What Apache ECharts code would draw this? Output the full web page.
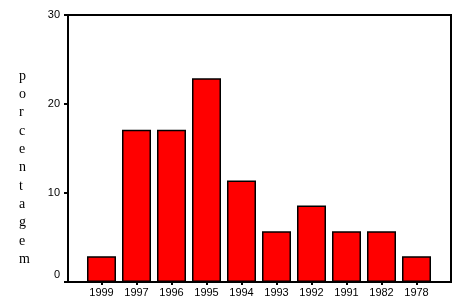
<!DOCTYPE html>
<html>
<head>
<meta charset="utf-8">
<script src="https://cdn.jsdelivr.net/npm/echarts@6/dist/echarts.min.js"></script>
<style>html,body{margin:0;padding:0;background:#fff}#c{width:461px;height:301px}</style>
</head>
<body>
<div id="c"></div>
<script>
var categories = ['1999','1997','1996','1995','1994','1993','1992','1991','1982','1978'];
var values = [2.9, 17.1, 17.1, 22.9, 11.4, 5.7, 8.6, 5.7, 5.7, 2.9];
var yMin = 0, yMax = 30, yStep = 10;
var yName = 'porcentagem';

var chart = echarts.init(document.getElementById('c'), null, {renderer: 'canvas'});
chart.setOption({
  animation: false,
  backgroundColor: '#fff',
  title: {
    text: yName.split('').join('\n'),
    left: 14, top: 62,
    textStyle: {fontFamily: 'Liberation Serif', fontSize: 14, fontWeight: 'normal', color: '#000', lineHeight: 18.3}
  },
  grid: [
    {left: 68, right: 10, top: 15, bottom: 19, show: true, borderColor: '#000', borderWidth: 2, backgroundColor: 'transparent'},
    {left: 84, right: 27, top: 15, bottom: 19}
  ],
  xAxis: [
    {gridIndex: 0, type: 'value', show: false, min: 0, max: 1},
    {gridIndex: 1, type: 'category', data: categories,
     axisLine: {show: false},
     axisTick: {show: true, alignWithLabel: true, length: 3, lineStyle: {color: '#000', width: 2}},
     axisLabel: {color: '#000', fontFamily: 'Liberation Sans', fontSize: 11, margin: 5}}
  ],
  yAxis: [
    {gridIndex: 0, type: 'value', min: yMin, max: yMax, interval: yStep,
     axisLine: {show: false},
     axisTick: {show: true, length: 4, lineStyle: {color: '#000', width: 2}},
     splitLine: {show: false},
     axisLabel: {color: '#000', fontFamily: 'Liberation Sans', fontSize: 11, margin: 8,
       formatter: function (v) { return v === yMin ? '{z|' + v + '}' : String(v); },
       rich: {z: {fontFamily: 'Liberation Sans', fontSize: 11, color: '#000', padding: [0, 0, 14, 0]}}}},
    {gridIndex: 1, type: 'value', min: yMin, max: yMax, show: false}
  ],
  series: [{
    type: 'bar', xAxisIndex: 1, yAxisIndex: 1,
    data: values, barWidth: 29,
    itemStyle: {color: '#ff0000', borderColor: '#000', borderWidth: 1.5}
  }]
});
</script>
</body>
</html>
